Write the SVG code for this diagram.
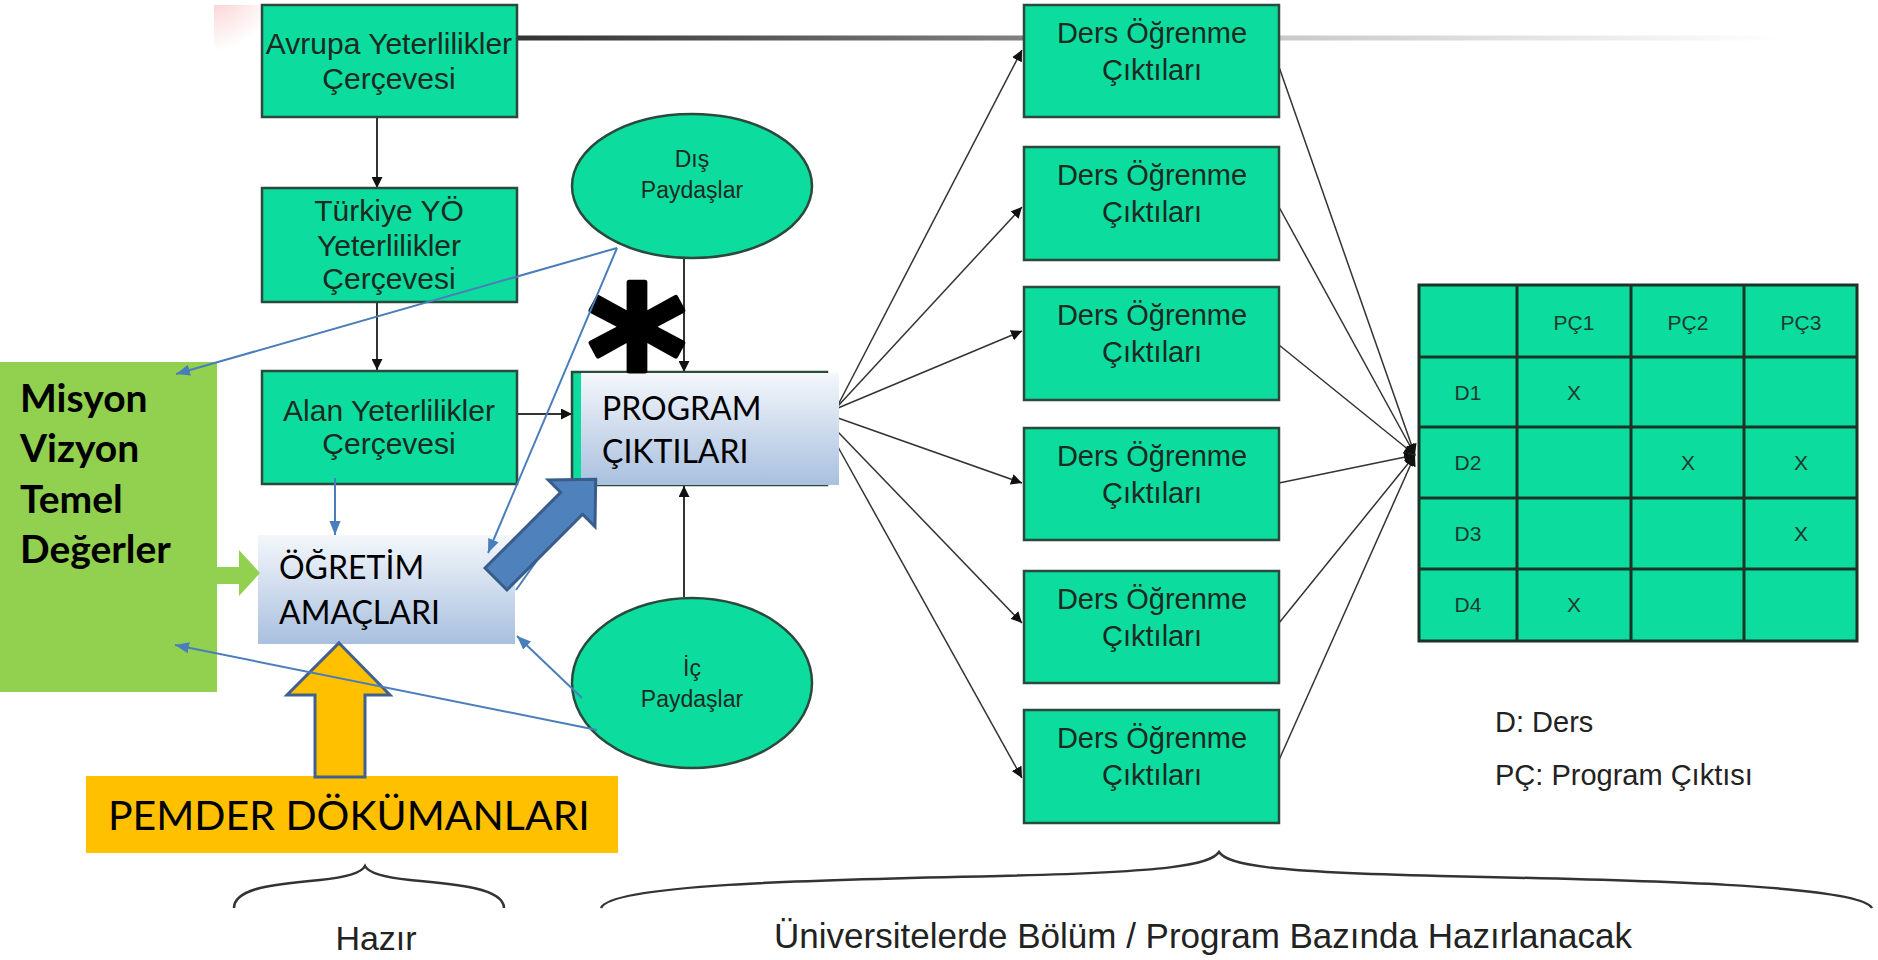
<svg xmlns="http://www.w3.org/2000/svg" width="1878" height="960" viewBox="0 0 1878 960">
<defs>
<style>
.box{fill:#0cdc9e;stroke:#2b4a3c;stroke-width:2.5}
.bt{font-family:"Liberation Sans",Arial,sans-serif;font-size:30px;fill:#1c2a22;text-anchor:middle}
.dt{font-family:"Liberation Sans",Arial,sans-serif;font-size:29px;fill:#1c2a22;text-anchor:middle}
.et{font-family:"Liberation Sans",Arial,sans-serif;font-size:23px;fill:#1c2a22;text-anchor:middle}
.tt{font-family:"Liberation Sans",Arial,sans-serif;font-size:21px;fill:#1f3a2e;text-anchor:middle}
.cal{font-family:Lato,"Open Sans",sans-serif;fill:#000}
.blk{stroke:#333;stroke-width:2;fill:none}
.thin{stroke:#333;stroke-width:1.5;fill:none}
.blu{stroke:#4a7ebb;stroke-width:2;fill:none}
.gl{font-family:"Liberation Sans",Arial,sans-serif;fill:#222}
</style>
<marker id="ahk" viewBox="0 0 10 10" refX="10" refY="5" markerWidth="11" markerHeight="11" markerUnits="userSpaceOnUse" orient="auto"><path d="M0,0 L10,5 L0,10 z" fill="#111"/></marker>
<marker id="ab" viewBox="0 0 10 10" refX="10" refY="5" markerWidth="14" markerHeight="14" markerUnits="userSpaceOnUse" orient="auto"><path d="M0,1 L10,5 L0,9 z" fill="#4a7ebb"/></marker>
<linearGradient id="bg" x1="0" y1="0" x2="0" y2="1"><stop offset="0" stop-color="#f4f7fb"/><stop offset="1" stop-color="#a9c0df"/></linearGradient>
<linearGradient id="tl" gradientUnits="userSpaceOnUse" x1="517" y1="0" x2="1780" y2="0"><stop offset="0" stop-color="#333"/><stop offset="0.4" stop-color="#808080"/><stop offset="0.6" stop-color="#c8c8c8"/><stop offset="1" stop-color="#ffffff"/></linearGradient>
<radialGradient id="pk" cx="0.3" cy="0.05" r="0.9"><stop offset="0" stop-color="#f07a7a" stop-opacity="0.5"/><stop offset="1" stop-color="#f07a7a" stop-opacity="0"/></radialGradient>
</defs>
<rect width="1878" height="960" fill="#fff"/>
<ellipse cx="225" cy="12" rx="40" ry="45" fill="url(#pk)"/>
<rect x="180" y="0" width="100" height="5" fill="#fff"/>
<rect x="170" y="0" width="44" height="70" fill="#fff"/>
<line x1="517" y1="38" x2="1780" y2="38" stroke="url(#tl)" stroke-width="5"/>

<g id="connectors-black">
<line class="blk" x1="377" y1="117" x2="377" y2="188" marker-end="url(#ahk)"/>
<line class="blk" x1="377" y1="302" x2="377" y2="370" marker-end="url(#ahk)"/>
<line class="blk" x1="517" y1="414" x2="572" y2="414" marker-end="url(#ahk)"/>
<line class="blk" x1="684" y1="258" x2="684" y2="372" marker-end="url(#ahk)"/>
<line class="blk" x1="684" y1="597" x2="684" y2="486" marker-end="url(#ahk)"/>
<line class="thin" x1="838" y1="405" x2="1022" y2="50" marker-end="url(#ahk)"/>
<line class="thin" x1="838" y1="406" x2="1022" y2="207" marker-end="url(#ahk)"/>
<line class="thin" x1="838" y1="408" x2="1022" y2="331" marker-end="url(#ahk)"/>
<line class="thin" x1="838" y1="418" x2="1022" y2="483" marker-end="url(#ahk)"/>
<line class="thin" x1="838" y1="432" x2="1022" y2="623" marker-end="url(#ahk)"/>
<line class="thin" x1="838" y1="447" x2="1022" y2="778" marker-end="url(#ahk)"/>
<line class="thin" x1="1279" y1="67" x2="1415" y2="455" marker-end="url(#ahk)"/>
<line class="thin" x1="1279" y1="207" x2="1415" y2="455" marker-end="url(#ahk)"/>
<line class="thin" x1="1279" y1="345" x2="1415" y2="455" marker-end="url(#ahk)"/>
<line class="thin" x1="1279" y1="483" x2="1415" y2="455" marker-end="url(#ahk)"/>
<line class="thin" x1="1279" y1="623" x2="1415" y2="455" marker-end="url(#ahk)"/>
<line class="thin" x1="1279" y1="760" x2="1415" y2="455" marker-end="url(#ahk)"/>
</g>

<g id="avrupa"><rect class="box" x="262" y="5" width="255" height="112"/><text class="bt" x="389" y="54">Avrupa Yeterlilikler</text><text class="bt" x="389" y="89">Çerçevesi</text></g>
<g id="turkiye"><rect class="box" x="262" y="188" width="255" height="114"/><text class="bt" x="389" y="221">Türkiye YÖ</text><text class="bt" x="389" y="256">Yeterlilikler</text><text class="bt" x="389" y="289">Çerçevesi</text></g>
<g id="alan"><rect class="box" x="262" y="371" width="255" height="113"/><text class="bt" x="389" y="421">Alan Yeterlilikler</text><text class="bt" x="389" y="454">Çerçevesi</text></g>

<g id="dis"><ellipse class="box" cx="692" cy="186" rx="120" ry="72"/><text class="et" x="692" y="167">Dış</text><text class="et" x="692" y="198">Paydaşlar</text></g>
<g id="ic"><ellipse class="box" cx="692" cy="683" rx="120" ry="85"/><text class="et" x="692" y="676">İç</text><text class="et" x="692" y="707">Paydaşlar</text></g>

<g id="program"><rect class="box" x="572" y="372" width="255" height="113"/><rect x="581" y="373" width="258" height="112" fill="url(#bg)"/><text class="cal" x="602" y="420" font-size="32">PROGRAM</text><text class="cal" x="602" y="463" font-size="32">ÇIKTILARI</text></g>
<g id="asterisk"><text x="637" y="424" font-family="DejaVu Sans,sans-serif" font-weight="bold" font-size="190" text-anchor="middle" fill="#000" stroke="#000" stroke-width="5" stroke-linejoin="round">*</text></g>

<g id="ogretim"><rect x="258" y="535" width="257" height="109" fill="url(#bg)"/><text class="cal" x="279" y="579" font-size="32">ÖĞRETİM</text><text class="cal" x="279" y="624" font-size="32">AMAÇLARI</text></g>

<g id="misyon"><rect x="0" y="362" width="217" height="330" fill="#92d050"/><text class="cal" x="20" y="412" font-size="39" font-weight="bold">Misyon</text><text class="cal" x="20" y="462" font-size="39" font-weight="bold">Vizyon</text><text class="cal" x="20" y="513" font-size="39" font-weight="bold">Temel</text><text class="cal" x="20" y="563" font-size="39" font-weight="bold">Değerler</text></g>
<g id="green-arrow"><polygon points="217,567 239,567 239,550 260,573 239,596 239,584 217,584" fill="#92d050"/></g>

<g id="pemder"><rect x="86" y="776" width="532" height="77" fill="#ffc000"/><text class="cal" x="108" y="830" font-size="41">PEMDER DÖKÜMANLARI</text></g>
<g id="orange-arrow"><polygon points="339,643 390,695 365,695 365,777 315,777 315,695 287,695" fill="#ffc000" stroke="#41608e" stroke-width="3"/></g>

<g id="connectors-blue">
<line class="blu" x1="617" y1="248" x2="176" y2="374" marker-end="url(#ab)"/>
<line class="blu" x1="617" y1="248" x2="488" y2="553" marker-end="url(#ab)"/>
<line class="blu" x1="582" y1="698" x2="517" y2="636" marker-end="url(#ab)"/>
<line class="blu" x1="597" y1="730" x2="175" y2="645" marker-end="url(#ab)"/>
<line class="blu" x1="335" y1="478" x2="335" y2="535" marker-end="url(#ab)"/>
<line class="blu" x1="516" y1="590" x2="560" y2="528"/>
</g>

<g id="block-arrow"><polygon transform="translate(496,579) rotate(-45)" points="0,-15.5 107,-15.5 107,-33 141,0 107,33 107,15.5 0,15.5" fill="#4f81bd" stroke="#385d8a" stroke-width="3"/></g>

<g id="ders1"><rect class="box" x="1024" y="5" width="255" height="112"/><text class="dt" x="1152" y="43">Ders Öğrenme</text><text class="dt" x="1152" y="80">Çıktıları</text></g>
<g id="ders2"><rect class="box" x="1024" y="147" width="255" height="113"/><text class="dt" x="1152" y="185">Ders Öğrenme</text><text class="dt" x="1152" y="222">Çıktıları</text></g>
<g id="ders3"><rect class="box" x="1024" y="287" width="255" height="113"/><text class="dt" x="1152" y="325">Ders Öğrenme</text><text class="dt" x="1152" y="362">Çıktıları</text></g>
<g id="ders4"><rect class="box" x="1024" y="428" width="255" height="112"/><text class="dt" x="1152" y="466">Ders Öğrenme</text><text class="dt" x="1152" y="503">Çıktıları</text></g>
<g id="ders5"><rect class="box" x="1024" y="571" width="255" height="112"/><text class="dt" x="1152" y="609">Ders Öğrenme</text><text class="dt" x="1152" y="646">Çıktıları</text></g>
<g id="ders6"><rect class="box" x="1024" y="710" width="255" height="113"/><text class="dt" x="1152" y="748">Ders Öğrenme</text><text class="dt" x="1152" y="785">Çıktıları</text></g>

<g id="matrix">
<rect x="1419" y="285" width="438" height="356" fill="#0cdc9e" stroke="#1d3328" stroke-width="3"/>
<g stroke="#1d3328" stroke-width="3">
<line x1="1517" y1="285" x2="1517" y2="641"/><line x1="1631" y1="285" x2="1631" y2="641"/><line x1="1744" y1="285" x2="1744" y2="641"/>
<line x1="1419" y1="357" x2="1857" y2="357"/><line x1="1419" y1="427" x2="1857" y2="427"/><line x1="1419" y1="498" x2="1857" y2="498"/><line x1="1419" y1="569" x2="1857" y2="569"/>
</g>
<text class="tt" x="1574" y="330">PÇ1</text><text class="tt" x="1688" y="330">PÇ2</text><text class="tt" x="1801" y="330">PÇ3</text>
<text class="tt" x="1468" y="400">D1</text><text class="tt" x="1468" y="470">D2</text><text class="tt" x="1468" y="541">D3</text><text class="tt" x="1468" y="612">D4</text>
<text class="tt" x="1574" y="400">X</text><text class="tt" x="1688" y="470">X</text><text class="tt" x="1801" y="470">X</text><text class="tt" x="1801" y="541">X</text><text class="tt" x="1574" y="612">X</text>
</g>

<g id="legend"><text class="gl" x="1495" y="732" font-size="29">D: Ders</text><text class="gl" x="1495" y="785" font-size="29">PÇ: Program Çıktısı</text></g>

<g id="braces" fill="none" stroke="#333" stroke-width="2.5">
<path d="M234,908 C234,888 275,884 320,880 C350,877 362,872 365,866 C368,872 380,877 410,880 C455,884 504,888 504,908"/>
<path d="M601,908 C610,885 800,880 1000,876 C1170,872 1210,865 1219,852 C1228,865 1268,872 1440,876 C1640,880 1860,885 1872,908"/>
</g>
<g id="brace-labels"><text class="gl" x="376" y="950" font-size="34" text-anchor="middle">Hazır</text><text class="gl" x="1203" y="948" font-size="35" text-anchor="middle">Üniversitelerde Bölüm / Program Bazında Hazırlanacak</text></g>
</svg>
